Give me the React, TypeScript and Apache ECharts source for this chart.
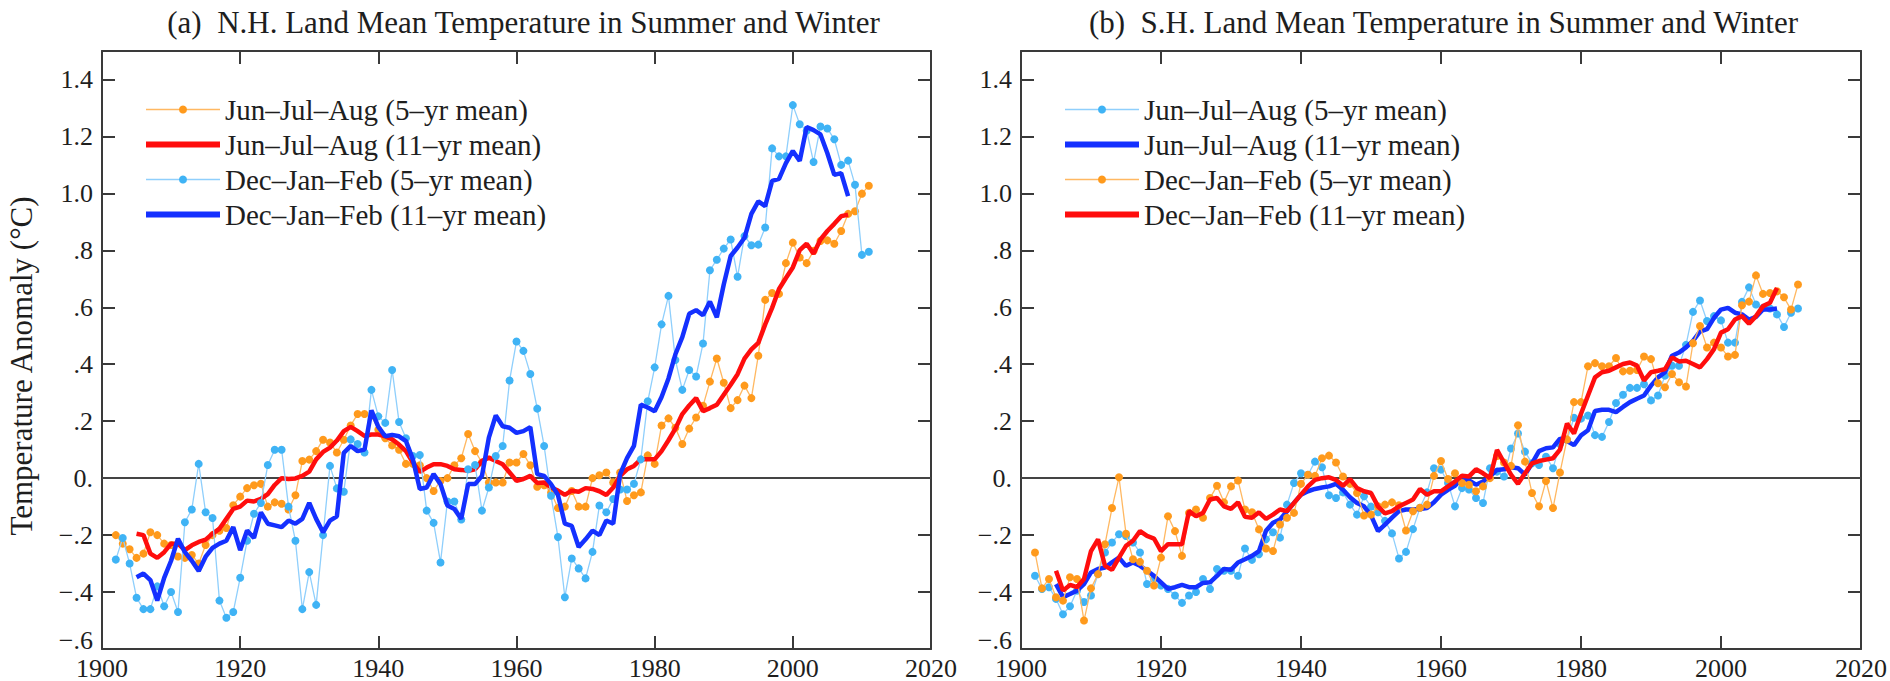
import React, { useEffect, useRef } from "react";
import * as echarts from "echarts";

// ---------- data ----------
const START_5YR = 1902;
const START_11YR = 1905;

// N.H.
const nhJJA5 = [
  -0.20, -0.23, -0.25, -0.28, -0.265, -0.19, -0.20, -0.23,
  -0.235, -0.275, -0.28, -0.27, -0.30, -0.235, -0.20, -0.185, -0.175, -0.095,
  -0.065, -0.035, -0.025, -0.02, -0.10, -0.085, -0.09, -0.11, -0.06, 0.06,
  0.065, 0.095, 0.135, 0.125, 0.09, 0.135, 0.185, 0.225, 0.225, 0.22,
  0.17, 0.14, 0.115, 0.10, 0.05, 0.05, 0.045, 0.00, -0.045, -0.01,
  0.00, 0.045, 0.07, 0.155, 0.095, 0.055, -0.015, -0.015, -0.015, 0.055,
  0.055, 0.085, 0.045, -0.03, -0.025, -0.05, -0.105, -0.10, -0.045, -0.10,
  -0.10, 0.00, 0.01, 0.02, -0.015, 0.02, -0.08, -0.06, -0.05, 0.08,
  0.05, 0.185, 0.21, 0.177, 0.12, 0.174, 0.213, 0.254, 0.339, 0.42,
  0.335, 0.246, 0.274, 0.325, 0.281, 0.43, 0.626, 0.65, 0.647, 0.755,
  0.827, 0.775, 0.755, 0.798, 0.833, 0.835, 0.823, 0.868, 0.928, 0.937,
  0.999, 1.027,
];
const nhJJA11 = [
  -0.195, -0.20, -0.265, -0.28, -0.26,
  -0.23, -0.23, -0.253, -0.236, -0.224, -0.216, -0.195, -0.178, -0.143, -0.108,
  -0.10, -0.079, -0.082, -0.073, -0.056, -0.024, 0.00, -0.003, -0.001, 0.008,
  0.023, 0.066, 0.092, 0.107, 0.132, 0.165, 0.18, 0.165, 0.148, 0.153,
  0.153, 0.147, 0.136, 0.118, 0.095, 0.055, 0.022, 0.037, 0.049, 0.049,
  0.043, 0.031, 0.029, 0.026, 0.031, 0.06, 0.072, 0.06, 0.049, 0.02,
  -0.009, -0.003, 0.008, -0.017, -0.015, -0.033, -0.044, -0.059, -0.044, -0.048,
  -0.035, -0.038, -0.046, -0.059, -0.033, 0.008, 0.031, 0.043, 0.066, 0.066,
  0.066, 0.095, 0.133, 0.174, 0.225, 0.255, 0.281, 0.235, 0.246, 0.258,
  0.293, 0.328, 0.365, 0.42, 0.452, 0.475, 0.54, 0.598, 0.664, 0.703,
  0.74, 0.801, 0.823, 0.788, 0.838, 0.868, 0.893, 0.92, 0.925,
];
const nhDJF5 = [
  -0.286, -0.21, -0.30, -0.42, -0.46, -0.46, -0.38, -0.45,
  -0.40, -0.47, -0.155, -0.11, 0.05, -0.12, -0.14, -0.43, -0.49, -0.47,
  -0.35, -0.22, -0.125, -0.087, 0.046, 0.10, 0.10, -0.10, -0.22, -0.46,
  -0.33, -0.445, -0.20, 0.043, -0.036, -0.048, 0.136, 0.12, 0.09, 0.31,
  0.217, 0.194, 0.38, 0.197, 0.14, 0.078, 0.081, -0.114, -0.157, -0.296,
  -0.082, -0.082, -0.145, 0.031, 0.046, -0.114, -0.033, 0.078, 0.113, 0.343,
  0.48, 0.447, 0.366, 0.244, 0.113, -0.062, -0.207, -0.418, -0.282, -0.317,
  -0.352, -0.259, -0.096, -0.12, -0.073, -0.04, -0.04, -0.02, 0.066, 0.27,
  0.389, 0.54, 0.64, 0.415, 0.31, 0.38, 0.357, 0.473, 0.73, 0.767,
  0.806, 0.838, 0.707, 0.85, 0.818, 0.82, 0.88, 1.158, 1.13, 1.13,
  1.31, 1.243, 1.22, 1.11, 1.235, 1.228, 1.19, 1.10, 1.115, 1.03,
  0.784, 0.795,
];
const nhDJF11 = [
  -0.348, -0.335, -0.358, -0.43, -0.35,
  -0.29, -0.213, -0.26, -0.29, -0.326, -0.276, -0.245, -0.23, -0.22, -0.172,
  -0.253, -0.184, -0.21, -0.12, -0.16, -0.166, -0.172, -0.149, -0.16, -0.143,
  -0.087, -0.143, -0.19, -0.149, -0.134, 0.089, 0.113, 0.095, 0.10, 0.238,
  0.18, 0.147, 0.152, 0.147, 0.13, 0.066, -0.038, -0.033, 0.014, -0.021,
  -0.096, -0.108, -0.143, -0.021, -0.021, 0.008, 0.142, 0.22, 0.182, 0.177,
  0.159, 0.165, 0.179, 0.014, 0.008, -0.021, -0.059, -0.16, -0.168, -0.242,
  -0.215, -0.184, -0.20, -0.149, -0.16, 0.014, 0.07, 0.113, 0.258, 0.248,
  0.235, 0.285, 0.35, 0.435, 0.495, 0.577, 0.59, 0.572, 0.62, 0.565,
  0.68, 0.78, 0.81, 0.844, 0.928, 0.972, 0.955, 1.044, 1.051, 1.106,
  1.149, 1.114, 1.233, 1.222, 1.207, 1.141, 1.065, 1.071, 0.99,
];

// S.H.
const shJJA5 = [
  -0.343, -0.389, -0.383, -0.424, -0.478, -0.45, -0.395, -0.435,
  -0.412, -0.337, -0.261, -0.226, -0.197, -0.203, -0.226, -0.261, -0.372, -0.354,
  -0.377, -0.389, -0.412, -0.438, -0.412, -0.40, -0.354, -0.389, -0.319, -0.325,
  -0.325, -0.343, -0.247, -0.287, -0.267, -0.215, -0.19, -0.209, -0.093, -0.017,
  0.017, 0.012, 0.058, 0.038, -0.06, -0.07, -0.05, -0.093, -0.128, -0.064,
  -0.10, -0.12, -0.15, -0.194, -0.282, -0.259, -0.179, -0.104, -0.05, 0.035,
  0.03, -0.017, -0.099, -0.035, -0.04, -0.07, -0.087, 0.035, 0.023, 0.006,
  0.104, 0.157, 0.093, 0.052, 0.046, 0.075, 0.035, 0.12, 0.134, 0.212,
  0.209, 0.22, 0.151, 0.145, 0.197, 0.264, 0.293, 0.317, 0.317, 0.33,
  0.273, 0.29, 0.36, 0.395, 0.395, 0.468, 0.584, 0.624, 0.552, 0.569,
  0.554, 0.476, 0.476, 0.619, 0.67, 0.61, 0.598, 0.596, 0.575, 0.531,
  0.581, 0.596,
];
const shJJA11 = [
  -0.372, -0.418, -0.407, -0.395, -0.372,
  -0.331, -0.319, -0.314, -0.296, -0.279, -0.308, -0.296, -0.308, -0.325, -0.343,
  -0.366, -0.389, -0.383, -0.375, -0.383, -0.383, -0.368, -0.366, -0.343, -0.319,
  -0.322, -0.296, -0.285, -0.273, -0.256, -0.185, -0.157, -0.145, -0.116, -0.087,
  -0.058, -0.046, -0.038, -0.033, -0.029, -0.02, -0.041, -0.067, -0.087, -0.099,
  -0.131, -0.186, -0.163, -0.139, -0.116, -0.11, -0.11, -0.108, -0.105, -0.085,
  -0.058, -0.041, -0.027, 0.0, -0.008, -0.023, -0.012, 0.006, 0.029, 0.031,
  0.038, 0.035, 0.012, 0.052, 0.095, 0.105, 0.108, 0.139, 0.13, 0.116,
  0.15, 0.168, 0.236, 0.24, 0.24, 0.232, 0.25, 0.267, 0.279, 0.29,
  0.325, 0.354, 0.372, 0.43, 0.441, 0.459, 0.482, 0.515, 0.523, 0.563,
  0.592, 0.598, 0.581, 0.575, 0.557, 0.566, 0.592, 0.592, 0.596,
];
const shDJF5 = [
  -0.261, -0.387, -0.354, -0.418, -0.43, -0.348, -0.354, -0.50,
  -0.387, -0.337, -0.232, -0.105, 0.003, -0.195, -0.285, -0.294, -0.325, -0.377,
  -0.279, -0.134, -0.186, -0.273, -0.122, -0.11, -0.139, -0.07, -0.027, -0.085,
  -0.029, -0.008, -0.11, -0.12, -0.18, -0.247, -0.256, -0.163, -0.139, -0.122,
  -0.02, 0.012, 0.008, 0.07, 0.079, 0.055, 0.006, -0.02, -0.052, -0.131,
  -0.128, -0.099, -0.093, -0.085, -0.095, -0.184, -0.116, -0.104, -0.093, 0.008,
  0.06, -0.003, 0.017, -0.017, -0.023, -0.046, -0.029, 0.0, 0.078, 0.055,
  0.043, 0.186, 0.058, -0.052, -0.099, -0.01, -0.105, 0.02, 0.136, 0.267,
  0.267, 0.393, 0.404, 0.393, 0.393, 0.422, 0.375, 0.377, 0.38, 0.427,
  0.418, 0.333, 0.319, 0.366, 0.337, 0.322, 0.474, 0.534, 0.459, 0.476,
  0.459, 0.427, 0.433, 0.607, 0.62, 0.712, 0.647, 0.65, 0.656, 0.635,
  0.592, 0.68,
];
const shDJF11 = [
  -0.325, -0.395, -0.375, -0.383, -0.354,
  -0.256, -0.215, -0.308, -0.322, -0.279, -0.238, -0.22, -0.186, -0.203, -0.212,
  -0.256, -0.232, -0.232, -0.232, -0.116, -0.134, -0.122, -0.075, -0.07, -0.099,
  -0.108, -0.085, -0.136, -0.139, -0.12, -0.143, -0.128, -0.11, -0.116, -0.087,
  -0.058, -0.029, -0.006, 0.0, 0.003, -0.006, -0.027, -0.003, -0.035, -0.046,
  -0.052, -0.099, -0.124, -0.116, -0.099, -0.087, -0.075, -0.038, -0.058, -0.046,
  -0.046, -0.029, -0.012, 0.008, 0.006, 0.031, 0.017, 0.0, 0.099, 0.055,
  0.012, -0.02, 0.017, 0.052, 0.06, 0.065, 0.07, 0.10, 0.192, 0.157,
  0.226, 0.29, 0.354, 0.372, 0.377, 0.389, 0.401, 0.406, 0.395, 0.343,
  0.372, 0.377, 0.383, 0.424, 0.41, 0.412, 0.401, 0.389, 0.418, 0.453,
  0.511, 0.523, 0.557, 0.569, 0.542, 0.569, 0.604, 0.616, 0.668,
];

const NAME_JJA5 = "Jun\u2013Jul\u2013Aug (5\u2013yr mean)";
const NAME_JJA11 = "Jun\u2013Jul\u2013Aug (11\u2013yr mean)";
const NAME_DJF5 = "Dec\u2013Jan\u2013Feb (5\u2013yr mean)";
const NAME_DJF11 = "Dec\u2013Jan\u2013Feb (11\u2013yr mean)";

const TITLE_A = "(a)  N.H. Land Mean Temperature in Summer and Winter";
const TITLE_B = "(b)  S.H. Land Mean Temperature in Summer and Winter";
const Y_NAME = "Temperature Anomaly (\u00B0C)";

const X_MIN = 1900, X_MAX = 2020, X_STEP = 20;
const Y_MIN = -0.6, Y_MAX = 1.5, Y_STEP = 0.2;

// ---------- styles ----------
const FONT = "'Liberation Serif', 'Times New Roman', serif";
const TXT = "#1e1e1e";
const AX = "#3a3a3a";
const ORANGE_DOT = "#ff9a1c";
const ORANGE_LINE = "#ffb862";
const CYAN_DOT = "#3fb3f5";
const CYAN_LINE = "#8fcffc";
const RED = "#ff0d0d";
const BLUE = "#1430ff";

const pairs = (start: number, vals: number[]) => vals.map((v, i) => [start + i, v]);

const yFmt = (v: number) => {
  const r = Math.round(v * 10) / 10;
  if (r > 1.45) return "";
  if (r === 0) return "0.";
  if (Math.abs(r) >= 1) return r.toFixed(1);
  const s = (r < 0 ? "\u2212" : "") + Math.abs(r).toFixed(1).slice(1);
  // lowest label sits a little above the corner, as in the original
  if (Math.abs(r - Y_MIN) < 1e-6) return `{lift|${s}}`;
  return s;
};
const xFmt = (v: number) => String(Math.round(v));

type SDef = { name: string; vals: number[]; start: number; kind: "dots" | "thick"; dot?: string; line: string };

function buildOption(cfg: {
  width: number;
  gridLeft: number;
  gridRight: number;
  title: string;
  yName: boolean;
  series: SDef[];
}) {
  const plotCenter = cfg.gridLeft + (cfg.width - cfg.gridLeft - cfg.gridRight) / 2;
  const axisCommon = {
    type: "value" as const,
    axisLine: { show: true, onZero: false, lineStyle: { color: AX, width: 2 } },
    axisTick: { show: true, inside: true, length: 13, lineStyle: { color: AX, width: 2 } },
    splitLine: { show: false },
  };
  const graphics: any[] = [
    {
      type: "text",
      x: plotCenter,
      y: 22,
      style: { text: cfg.title, fill: TXT, font: `31px ${FONT}`, textAlign: "center", textVerticalAlign: "middle" },
    },
  ];
  if (cfg.yName) {
    graphics.push({
      type: "text",
      x: 21,
      y: 366,
      rotation: Math.PI / 2,
      style: { text: Y_NAME, fill: TXT, font: `31px ${FONT}`, textAlign: "center", textVerticalAlign: "middle" },
    });
  }
  return {
    animation: false,
    backgroundColor: "#ffffff",
    grid: { left: cfg.gridLeft, right: cfg.gridRight, top: 51, bottom: 31, containLabel: false },
    graphic: graphics,
    legend: {
      orient: "vertical",
      left: cfg.gridLeft + 36,
      top: 90,
      itemWidth: 74,
      itemHeight: 10,
      itemGap: 6,
      selectedMode: false,
      textStyle: { fontFamily: FONT, fontSize: 29, color: TXT },
      data: cfg.series.map((s) => ({
        name: s.name,
        lineStyle: { width: s.kind === "thick" ? 6 : 1.5, color: s.line },
        itemStyle:
          s.kind === "thick"
            ? { color: "rgba(0,0,0,0)", borderWidth: 0, opacity: 0 }
            : { color: s.dot },
      })),
    },
    xAxis: [
      {
        ...axisCommon,
        min: X_MIN, max: X_MAX, interval: X_STEP,
        position: "bottom",
        axisLabel: { show: true, fontFamily: FONT, fontSize: 26, color: TXT, margin: 6, formatter: xFmt },
      },
      {
        ...axisCommon,
        min: X_MIN, max: X_MAX, interval: X_STEP,
        position: "top",
        axisLabel: { show: false },
      },
    ],
    yAxis: [
      {
        ...axisCommon,
        min: Y_MIN, max: Y_MAX, interval: Y_STEP,
        position: "left",
        axisLabel: {
          show: true,
          fontFamily: FONT,
          fontSize: 26,
          color: TXT,
          margin: 9,
          formatter: yFmt,
          showMaxLabel: false,
          rich: { lift: { fontFamily: FONT, fontSize: 26, color: TXT, padding: [0, 0, 18, 0] } },
        },
      },
      {
        ...axisCommon,
        min: Y_MIN, max: Y_MAX, interval: Y_STEP,
        position: "right",
        axisLabel: { show: false },
      },
    ],
    series: cfg.series.map((s, i) => {
      const base: any = {
        name: s.name,
        type: "line",
        xAxisIndex: 0,
        yAxisIndex: 0,
        data: pairs(s.start, s.vals),
        z: 3 + i,
      };
      if (s.kind === "dots") {
        Object.assign(base, {
          symbol: "circle",
          symbolSize: 8,
          showSymbol: true,
          lineStyle: { width: 1.3, color: s.line },
          itemStyle: { color: s.dot },
        });
      } else {
        Object.assign(base, {
          symbol: "none",
          showSymbol: false,
          lineStyle: { width: 4.5, color: s.line },
          itemStyle: { color: s.line },
        });
      }
      if (i === 0) {
        base.markLine = {
          silent: true,
          symbol: "none",
          label: { show: false },
          lineStyle: { color: "#444", width: 1.8, type: "solid" },
          data: [{ yAxis: 0 }],
          z: 1,
        };
      }
      return base;
    }),
  };
}

const LEFT_W = 960;
const RIGHT_W = 930;

export default function App() {
  const leftRef = useRef<HTMLDivElement>(null);
  const rightRef = useRef<HTMLDivElement>(null);

  useEffect(() => {
    const l = echarts.init(leftRef.current!, null, { renderer: "svg" });
    const r = echarts.init(rightRef.current!, null, { renderer: "svg" });
    l.setOption(
      buildOption({
        width: LEFT_W,
        gridLeft: 102,
        gridRight: LEFT_W - 945,
        title: TITLE_A,
        yName: true,
        series: [
          { name: NAME_JJA5, vals: nhJJA5, start: START_5YR, kind: "dots", dot: ORANGE_DOT, line: ORANGE_LINE },
          { name: NAME_JJA11, vals: nhJJA11, start: START_11YR, kind: "thick", line: RED },
          { name: NAME_DJF5, vals: nhDJF5, start: START_5YR, kind: "dots", dot: CYAN_DOT, line: CYAN_LINE },
          { name: NAME_DJF11, vals: nhDJF11, start: START_11YR, kind: "thick", line: BLUE },
        ],
      })
    );
    r.setOption(
      buildOption({
        width: RIGHT_W,
        gridLeft: 1021 - LEFT_W,
        gridRight: RIGHT_W - (1866 - LEFT_W),
        title: TITLE_B,
        yName: false,
        series: [
          { name: NAME_JJA5, vals: shJJA5, start: START_5YR, kind: "dots", dot: CYAN_DOT, line: CYAN_LINE },
          { name: NAME_JJA11, vals: shJJA11, start: START_11YR, kind: "thick", line: BLUE },
          { name: NAME_DJF5, vals: shDJF5, start: START_5YR, kind: "dots", dot: ORANGE_DOT, line: ORANGE_LINE },
          { name: NAME_DJF11, vals: shDJF11, start: START_11YR, kind: "thick", line: RED },
        ],
      })
    );
    return () => {
      l.dispose();
      r.dispose();
    };
  }, []);

  return (
    <div style={{ position: "absolute", left: 0, top: 0, width: 1890, height: 681, background: "#fff", overflow: "hidden" }}>
      <div ref={leftRef} style={{ position: "absolute", left: 0, top: 0, width: LEFT_W, height: 681 }} />
      <div ref={rightRef} style={{ position: "absolute", left: LEFT_W, top: 0, width: RIGHT_W, height: 681 }} />
    </div>
  );
}
